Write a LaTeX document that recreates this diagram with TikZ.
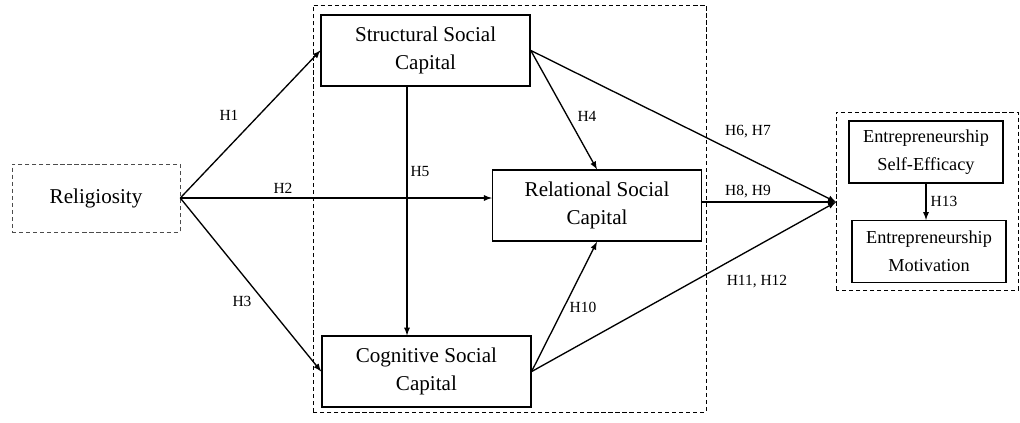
\documentclass[tikz,border=0pt]{standalone}
\usepackage{fontspec}
\setmainfont{Liberation Serif}

\begin{document}
\begin{tikzpicture}[
  box/.style={draw, line width=0.9pt, minimum width=5.225cm, minimum height=1.775cm, align=center, font=\fontsize{15}{20}\selectfont},
  smallbox/.style={draw, line width=0.9pt, minimum width=3.85cm, minimum height=1.55cm, align=center, font=\fontsize{13}{20}\selectfont},
  dashbox/.style={draw, dashed, dash pattern=on 3pt off 2pt},
  hyp/.style={font=\fontsize{11}{13}\selectfont},
  arr/.style={line width=0.95pt, -latex}
]
\useasboundingbox (0,0) rectangle (25.5,10.55);

% frames round the groups
\draw[dashbox] (7.825,0.25) rectangle (17.65,10.425);
\draw[dashbox] (20.9,3.3) rectangle (25.45,7.75);

\node[dashbox, draw=black!70, minimum width=4.2cm, minimum height=1.7cm, font=\fontsize{15}{20}\selectfont] (relig) at (2.4,5.6) {Religiosity};

\node[box] (struct) at (10.64,9.29) {Structural Social\\Capital};
\node[box] (rel) at (14.925,5.41) {Relational Social\\Capital};
\node[box] (cog) at (10.66,1.26) {Cognitive Social\\Capital};

\node[smallbox] (eff) at (23.15,6.75) {Entrepreneurship\\Self-Efficacy};
\node[smallbox] (mot) at (23.225,4.26) {Entrepreneurship\\Motivation};

\coordinate (hub) at (20.9,5.5);

%%% arrows
\draw[arr] (relig.east) -- (struct.west);
\draw[arr] (relig.east) -- (relig.east -| rel.west);
\draw[arr] (relig.east) -- (cog.west);

\draw[arr] (struct.east) -- (rel.north);
\draw[arr] ([xshift=-0.465cm]struct.south) -- ([xshift=-0.465cm]struct.south |- cog.north);
\draw[arr] (cog.east) -- (rel.south);

\draw[arr] (struct.east) -- (hub);
\draw[arr] (rel.east |- hub) -- (hub);
\draw[arr] (cog.east) -- (hub);

\draw[arr] (eff.south) -- (eff.south |- mot.north);

%%% labels
\node[hyp] (h1) at (5.725,7.675) {H1};
\node[hyp] (h2) at (7.075,5.85) {H2};
\node[hyp] (h3) at (6.05,3.025) {H3};
\node[hyp] (h4) at (14.675,7.65) {H4};
\node[hyp] (h5) at (10.5,6.25) {H5};
\node[hyp] (h67) at (18.7,7.25) {H6, H7};
\node[hyp] (h89) at (18.7,5.75) {H8, H9};
\node[hyp] (h10) at (14.575,2.875) {H10};
\node[hyp] (h1112) at (18.925,3.5) {H11, H12};
\node[hyp] (h13) at (23.6,5.525) {H13};

\end{tikzpicture}
\end{document}
